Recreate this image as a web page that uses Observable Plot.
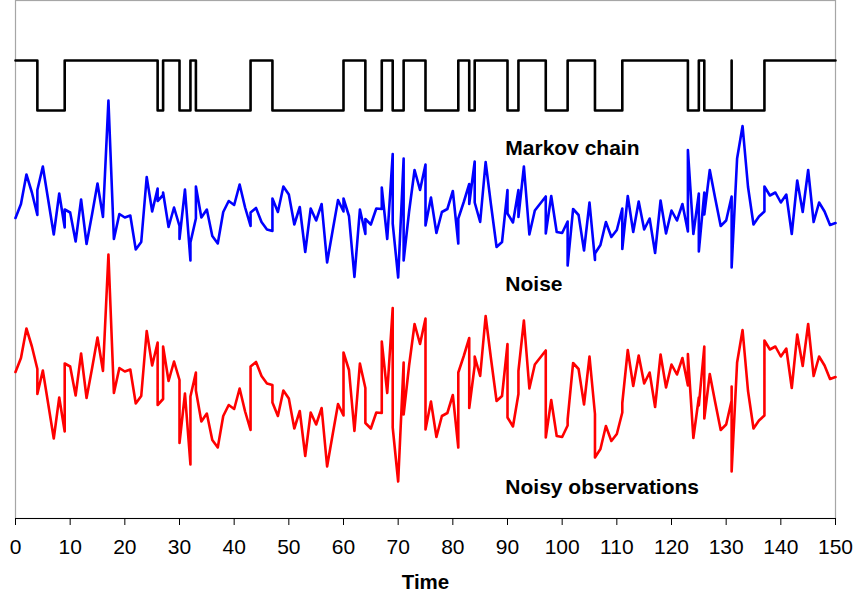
<!DOCTYPE html>
<html>
<head>
<meta charset="utf-8">
<script src="https://cdn.jsdelivr.net/npm/d3@7"></script>
<script src="https://cdn.jsdelivr.net/npm/@observablehq/plot@0.6"></script>
<style>
  html, body { margin: 0; padding: 0; background: #fff; }
  #chart svg { display: block; }
</style>
</head>
<body>
<div id="chart"></div>
<script>
// ---- data ----
// Markov chain: times at which the state changes, and the state from then on (1 = high, 0 = low)
const chainTime  = [0,4,9,26,27,30,32,33,43,47,60,64,67,69,71,75,81,83,84,90,92,97,101,106,111,123,125,126,131,131,137,150];
const chainState = [1,0,1,0,1,0,1,0,1,0,1,0,1,0,1,0,1,0,1,0,1,0,1,0,1,0,1,0,1,0,1,1];

// Sample times of the noise / observation traces (repeated at chain transitions)
const time = [0,1,2,3,4,4,5,6,7,8,9,9,10,11,12,13,14,15,16,17,18,19,20,21,22,23,24,25,26,26,27,27,28,29,30,30,31,32,32,33,33,34,35,36,37,38,39,40,41,42,43,43,44,45,46,47,47,48,49,50,51,52,53,54,55,56,57,58,59,60,60,61,62,63,64,64,65,66,67,67,68,69,69,70,71,71,72,73,74,75,75,76,77,78,79,80,81,81,82,83,83,84,84,85,86,87,88,89,90,90,91,92,92,93,94,95,96,97,97,98,99,100,101,101,102,103,104,105,106,106,107,108,109,110,111,111,112,113,114,115,116,117,118,119,120,121,122,123,123,124,125,125,126,126,127,128,129,130,131,131,131,132,133,134,135,136,137,137,138,139,140,141,142,143,144,145,146,147,148,149,150];

// Noise
const noise = [0.01,0.29,0.88,0.52,0.07,0.57,1.04,0.36,-0.32,0.50,-0.18,0.18,0.12,-0.46,0.38,-0.51,0.08,0.70,0.03,2.36,-0.41,0.09,0.02,0.06,-0.62,-0.47,0.83,0.14,0.60,0.35,0.47,0.52,-0.17,0.22,-0.15,-0.41,0.58,-0.84,-0.48,0.00,0.64,0.02,0.18,-0.35,-0.50,0.13,0.35,0.27,0.68,0.22,-0.15,0.12,0.21,-0.07,-0.22,-0.25,0.40,0.13,0.64,0.48,-0.12,0.23,-0.67,0.20,-0.04,0.29,-0.88,-0.25,0.37,0.14,0.40,0.05,-1.17,0.18,-0.31,-0.01,-0.12,0.20,0.19,0.62,-0.41,1.29,-0.10,-1.18,1.20,-0.84,0.14,0.97,0.57,1.08,-0.14,0.42,-0.29,0.13,0.19,0.55,-0.50,0.00,0.33,0.69,0.29,1.14,0.32,-0.07,1.13,0.26,-0.57,-0.47,0.57,0.10,-0.08,0.57,0.03,1.04,-0.32,0.16,0.30,0.44,-0.30,0.45,-0.27,-0.29,-0.06,-0.94,0.19,0.07,-0.64,0.32,-0.83,-0.70,-0.53,-0.07,-0.37,-0.23,0.20,-0.61,0.45,-0.27,0.34,-0.22,0.00,-0.69,0.36,-0.30,0.16,-0.04,0.29,-0.26,1.37,-0.31,0.50,-0.66,0.52,0.08,0.97,0.40,-0.15,-0.04,0.44,-0.28,-0.98,1.20,1.85,0.63,-0.12,0.04,0.14,0.64,0.46,0.52,0.32,0.48,-0.31,0.76,0.13,0.97,-0.07,0.32,0.14,-0.13,-0.09];

// Noisy observations
const observed = [1.01,1.29,1.88,1.52,1.07,0.57,1.04,0.36,-0.32,0.50,-0.18,1.18,1.12,0.54,1.38,0.49,1.08,1.70,1.03,3.36,0.59,1.09,1.02,1.06,0.38,0.53,1.83,1.14,1.60,0.35,0.47,1.52,0.83,1.22,0.85,-0.41,0.58,-0.84,0.52,1.00,0.64,0.02,0.18,-0.35,-0.50,0.13,0.35,0.27,0.68,0.22,-0.15,1.12,1.21,0.93,0.78,0.75,0.40,0.13,0.64,0.48,-0.12,0.23,-0.67,0.20,-0.04,0.29,-0.88,-0.25,0.37,0.14,1.40,1.05,-0.17,1.18,0.69,-0.01,-0.12,0.20,0.19,1.62,0.59,2.29,-0.10,-1.18,1.20,0.16,1.14,1.97,1.57,2.08,-0.14,0.42,-0.29,0.13,0.19,0.55,-0.50,1.00,1.33,1.69,0.29,1.14,1.32,0.93,2.13,1.26,0.43,0.53,1.57,0.10,-0.08,0.57,1.03,2.04,0.68,1.16,1.30,1.44,-0.30,0.45,-0.27,-0.29,-0.06,0.06,1.19,1.07,0.36,1.32,0.17,-0.70,-0.53,-0.07,-0.37,-0.23,0.20,0.39,1.45,0.73,1.34,0.78,1.00,0.31,1.36,0.70,1.16,0.96,1.29,0.74,1.37,-0.31,0.50,0.34,1.52,0.08,0.97,0.40,-0.15,-0.04,0.44,0.72,-0.98,1.20,1.85,0.63,-0.12,0.04,0.14,1.64,1.46,1.52,1.32,1.48,0.69,1.76,1.13,1.97,0.93,1.32,1.14,0.87,0.91];

const xTicks = [0,10,20,30,40,50,60,70,80,90,100,110,120,130,140,150];
const seriesLabels = ["Markov chain", "Noise", "Noisy observations"];
const axisTitle = "Time";

// ---- layout (vertical stacking of the three traces) ----
const CHAIN_OFFSET = 8.16;
const NOISE_OFFSET = 6;
const OBS_OFFSET = 1.92;
const LABEL_X = 89.6;
const LABEL_Y = [7.4, 4.68, 0.62];

const chainRows = chainTime.map((t, i) => ({t, s: chainState[i]}));
const rows = time.map((t, i) => ({t, n: noise[i], o: observed[i]}));
const labelRows = seriesLabels.map((name, i) => ({name, x: LABEL_X, y: LABEL_Y[i]}));

const chart = Plot.plot({
  width: 853,
  height: 596,
  marginLeft: 15,
  marginRight: 18,
  marginTop: 0,
  marginBottom: 78,
  style: {fontFamily: "'Liberation Sans', Arial, sans-serif", background: "#fff"},
  x: {domain: [0, 150]},
  y: {domain: [0, 10.36], axis: null},
  marks: [
    Plot.frame({stroke: "#a6a6a6", strokeWidth: 1.2}),
    Plot.line(chainRows, {x: "t", y: d => d.s + CHAIN_OFFSET, stroke: "black", strokeWidth: 2.6, curve: "step-after"}),
    Plot.line(rows, {x: "t", y: d => d.n + NOISE_OFFSET, stroke: "#0000ff", strokeWidth: 2.6, curve: "linear"}),
    Plot.line(rows, {x: "t", y: d => d.o + OBS_OFFSET, stroke: "#ff0000", strokeWidth: 2.6, curve: "linear"}),
    Plot.ruleY([0], {stroke: "black", strokeWidth: 1.2}),
    Plot.axisX({ticks: xTicks, tickSize: 7, tickPadding: 14, fontSize: 21, label: null, stroke: "black"}),
    Plot.text(labelRows, {x: "x", y: "y", text: "name", textAnchor: "start", fontSize: 21, fontWeight: "bold", fill: "black"}),
    Plot.text([axisTitle], {frameAnchor: "bottom", dy: 70, fontSize: 20.5, fontWeight: "bold", fill: "black"})
  ]
});
document.getElementById("chart").appendChild(chart);
</script>
</body>
</html>
